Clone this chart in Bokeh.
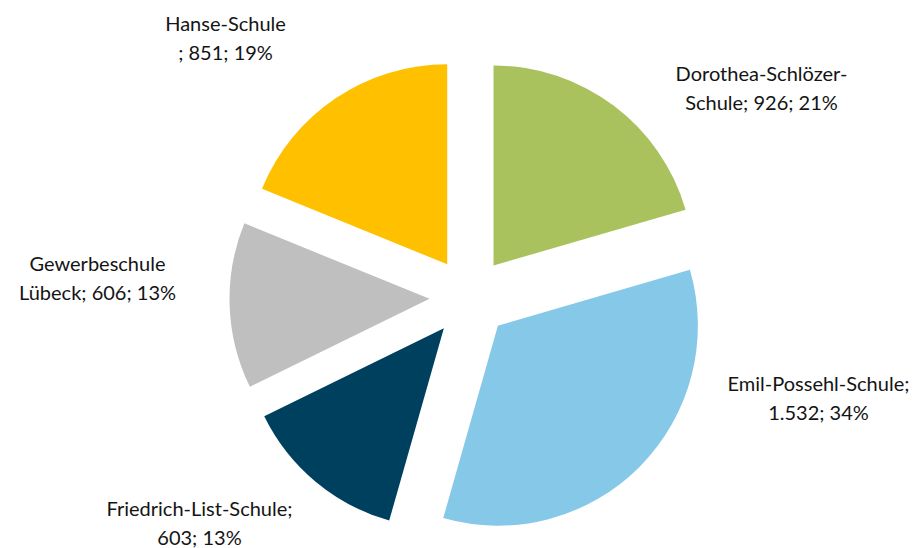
import math
from bokeh.plotting import figure
from bokeh.models import Range1d, ColumnDataSource
from bokeh.core.properties import value
from bokeh.embed import file_html
from bokeh.resources import INLINE

# ---- data ----
names = ["Dorothea-Schlözer-Schule", "Emil-Possehl-Schule", "Friedrich-List-Schule",
         "Gewerbeschule Lübeck", "Hanse-Schule"]
values = [926, 1532, 603, 606, 851]
colors = ["#A9C25E", "#86C8E8", "#00405F", "#BFBFBF", "#FFC000"]

# ---- layout (pixel positions on the page, not data) ----
W, H = 920, 548
center_px = (469, 297)
radius_px = 200
explode_px = 40
# label line breaks (chars on first line) and label anchors (page px: x-center, baseline of line 1)
break_after = [18, 20, 22, 13, 12]
label_px = [(761, 82), (818, 392), (199, 517), (97, 272), (225, 32)]
line_gap = 29
text_shift = -10  # compensate renderer baseline offset

def px_to_data(x, y):
    return x, H - y

total = sum(values)
cx, cy = px_to_data(*center_px)

# percentages rounded so that they add up to 100 (largest remainder)
raw = [100 * v / total for v in values]
pcts = [math.floor(r) for r in raw]
order = sorted(range(len(raw)), key=lambda i: raw[i] - pcts[i], reverse=True)
for i in order[:100 - sum(pcts)]:
    pcts[i] += 1

xs, ys, starts, ends = [], [], [], []
cum = 0.0
for v in values:
    f0 = cum / total
    cum += v
    f1 = cum / total
    a0 = math.pi / 2 - 2 * math.pi * f0
    a1 = math.pi / 2 - 2 * math.pi * f1
    mid = (a0 + a1) / 2
    xs.append(cx + explode_px * math.cos(mid))
    ys.append(cy + explode_px * math.sin(mid))
    starts.append(a0)
    ends.append(a1)

src = ColumnDataSource(dict(x=xs, y=ys, start=starts, end=ends, color=colors))

p = figure(width=W, height=H, output_backend="svg", toolbar_location=None,
           x_range=Range1d(0, W), y_range=Range1d(0, H), min_border=0)
p.axis.visible = False
p.grid.visible = False
p.outline_line_color = None
p.background_fill_color = "white"
p.border_fill_color = "white"

p.wedge(x="x", y="y", radius=radius_px, start_angle="start", end_angle="end",
        direction="clock", fill_color="color", line_color=None, source=src)

def fmt(v):
    return f"{v:,}".replace(",", ".")

tx, ty, tt = [], [], []
for name, v, pct, br, (lx, ly) in zip(names, values, pcts, break_after, label_px):
    full = f"{name}; {fmt(v)}; {pct}%"
    l1, l2 = full[:br].strip(), full[br:].strip()
    for i, line in enumerate([l1, l2]):
        dx, dy = px_to_data(lx, ly + i * line_gap + text_shift)
        tx.append(dx)
        ty.append(dy)
        tt.append(line)

p.text(x=tx, y=ty, text=tt, text_align="center", text_baseline="alphabetic",
       text_font=value("Lato"), text_font_size="20px", text_color="#141414")

open("out.html", "w").write(file_html(p, INLINE))
